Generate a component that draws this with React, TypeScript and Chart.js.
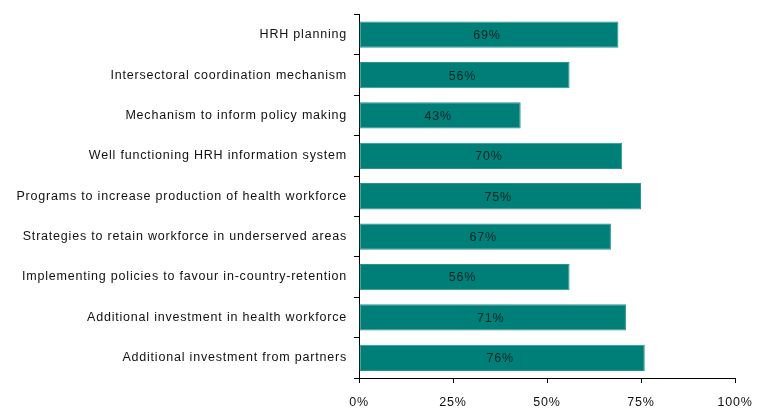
import React, { useEffect, useRef } from "react";
import { Chart, registerables } from "chart.js";

Chart.register(...registerables);

const categories = [
  "HRH planning",
  "Intersectoral coordination mechanism",
  "Mechanism to inform policy making",
  "Well functioning HRH information system",
  "Programs to increase production of health workforce",
  "Strategies to retain workforce in underserved areas",
  "Implementing policies to favour in-country-retention",
  "Additional investment in health workforce",
  "Additional investment from partners",
];
const values = [69, 56, 43, 70, 75, 67, 56, 71, 76];
const xTicks = [0, 25, 50, 75, 100];

const FONT = "'Liberation Sans', Arial, sans-serif";

const spacing = {
  id: "spacing",
  beforeInit(chart: any) {
    chart.ctx.letterSpacing = "0.8px";
  },
  beforeDraw(chart: any) {
    chart.ctx.letterSpacing = "0.8px";
  },
};

const valueLabels = {
  id: "valueLabels",
  afterDatasetsDraw(chart: any) {
    const ctx = chart.ctx;
    const meta = chart.getDatasetMeta(0);
    ctx.save();
    ctx.letterSpacing = "0.8px";
    ctx.font = `12.5px ${FONT}`;
    ctx.fillStyle = "#0a2422";
    ctx.textAlign = "center";
    ctx.textBaseline = "middle";
    meta.data.forEach((bar: any, i: number) => {
      const cx = (bar.x + bar.base) / 2;
      ctx.fillText(values[i] + "%", cx - 2, bar.y + 1);
    });
    ctx.restore();
  },
};

export default function App() {
  const ref = useRef<HTMLCanvasElement>(null);
  useEffect(() => {
    if (!ref.current) return;
    const chart = new Chart(ref.current, {
      type: "bar",
      data: {
        labels: categories,
        datasets: [
          {
            data: values,
            backgroundColor: "#007f79",
            borderColor: "#2a9590",
            borderWidth: 1,
            borderSkipped: false,
            barPercentage: 0.65,
            categoryPercentage: 1,
          },
        ],
      },
      options: {
        indexAxis: "y",
        animation: false,
        responsive: false,
        maintainAspectRatio: false,
        layout: { padding: { top: 9, right: 26, left: 0, bottom: 0 } },
        plugins: { legend: { display: false }, tooltip: { enabled: false } },
        scales: {
          x: {
            min: 0,
            max: 100,
            afterBuildTicks: (scale: any) => {
              scale.ticks = xTicks.map((v) => ({ value: v }));
            },
            ticks: {
              callback: (v: any) => v + "%",
              color: "#111",
              font: { family: FONT, size: 12.5 },
              padding: 12,
              maxRotation: 0,
            },
            grid: {
              drawOnChartArea: false,
              drawTicks: true,
              tickLength: 5,
              color: "#000",
            },
            border: { color: "#000", width: 1 },
            afterFit: (scale: any) => {
              scale.height = 31;
            },
          },
          y: {
            ticks: {
              color: "#111",
              font: { family: FONT, size: 12.5 },
              padding: 7,
            },
            grid: {
              drawOnChartArea: false,
              drawTicks: true,
              tickLength: 5,
              color: "#000",
              offset: true,
            },
            border: { color: "#000", width: 1 },
            afterFit: (scale: any) => {
              scale.width = 359;
            },
          },
        },
      },
      plugins: [spacing, valueLabels],
    } as any);
    return () => chart.destroy();
  }, []);
  return (
    <div style={{ position: "absolute", left: 0, top: 0, width: 763, height: 409, background: "#fff" }}>
      <canvas ref={ref} width={763} height={409} style={{ display: "block" }} />
    </div>
  );
}
